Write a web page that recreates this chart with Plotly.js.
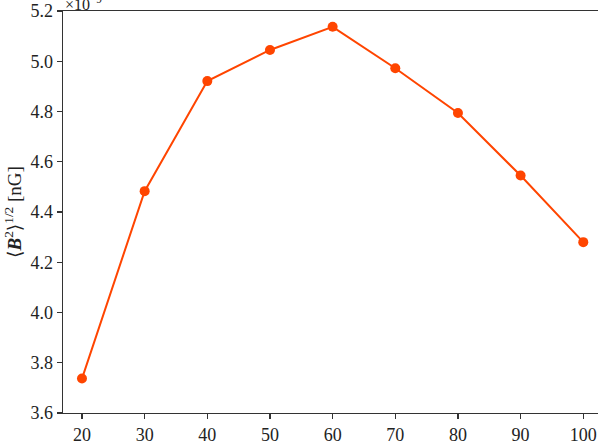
<!DOCTYPE html>
<html>
<head>
<meta charset="utf-8">
<script src="https://cdn.plot.ly/plotly-3.0.1.min.js"></script>
<style>
  html, body { margin: 0; padding: 0; background: #fff; }
  #plot { width: 598px; height: 448px; }
</style>
</head>
<body>
<div id="plot"></div>
<script>
// data
var nilaiX = [20, 30, 40, 50, 60, 70, 80, 90, 100];
var nilaiB = [3.737, 4.483, 4.921, 5.045, 5.137, 4.972, 4.794, 4.545, 4.280];
var tickY = [3.6, 3.8, 4.0, 4.2, 4.4, 4.6, 4.8, 5.0, 5.2];
var labelY = ["3.6", "3.8", "4.0", "4.2", "4.4", "4.6", "4.8", "5.0", "5.2"];

var fontSerif = "'Liberation Serif', 'DejaVu Serif', serif";

var trace = {
    x: nilaiX,
    y: nilaiB,
    type: "scatter",
    mode: "lines+markers",
    line: { color: "#ff4500", width: 2 },
    marker: { color: "#ff4500", size: 10 },
    hoverinfo: "skip"
};

var layout = {
    width: 598,
    height: 448,
    margin: { l: 63, r: 0, t: 11, b: 35 },
    paper_bgcolor: "#ffffff",
    plot_bgcolor: "#ffffff",
    showlegend: false,
    font: { family: fontSerif, size: 18, color: "#222" },
    xaxis: {
        range: [16.97, 102.35],
        tickvals: nilaiX,
        ticktext: nilaiX.map(String),
        showgrid: false,
        zeroline: false,
        showline: true,
        mirror: true,
        linecolor: "#333",
        linewidth: 1.3,
        ticks: "outside",
        ticklen: 5,
        tickwidth: 1.2,
        tickcolor: "#333",
        tickfont: { family: fontSerif, size: 18, color: "#222" }
    },
    yaxis: {
        range: [3.6, 5.2],
        tickvals: tickY,
        ticktext: labelY,
        showgrid: false,
        zeroline: false,
        showline: true,
        mirror: false,
        linecolor: "#333",
        linewidth: 1.3,
        ticks: "outside",
        ticklen: 5,
        tickwidth: 1.2,
        tickcolor: "#333",
        tickfont: { family: fontSerif, size: 18, color: "#222" },
        title: {
            text: "⟨<b><i>B</i></b><sup>2</sup>⟩<sup>1/2</sup> [nG]",
            font: { family: fontSerif, size: 19, color: "#222" },
            standoff: 4
        }
    },
    annotations: [{
        xref: "paper", yref: "paper",
        x: 0.0, y: 1,
        xanchor: "left", yanchor: "bottom",
        yshift: -4,
        text: "×10<sup>−9</sup>",
        showarrow: false,
        font: { family: fontSerif, size: 16, color: "#222" }
    }]
};

Plotly.newPlot("plot", [trace], layout, { displayModeBar: false, staticPlot: true });
</script>
</body>
</html>
